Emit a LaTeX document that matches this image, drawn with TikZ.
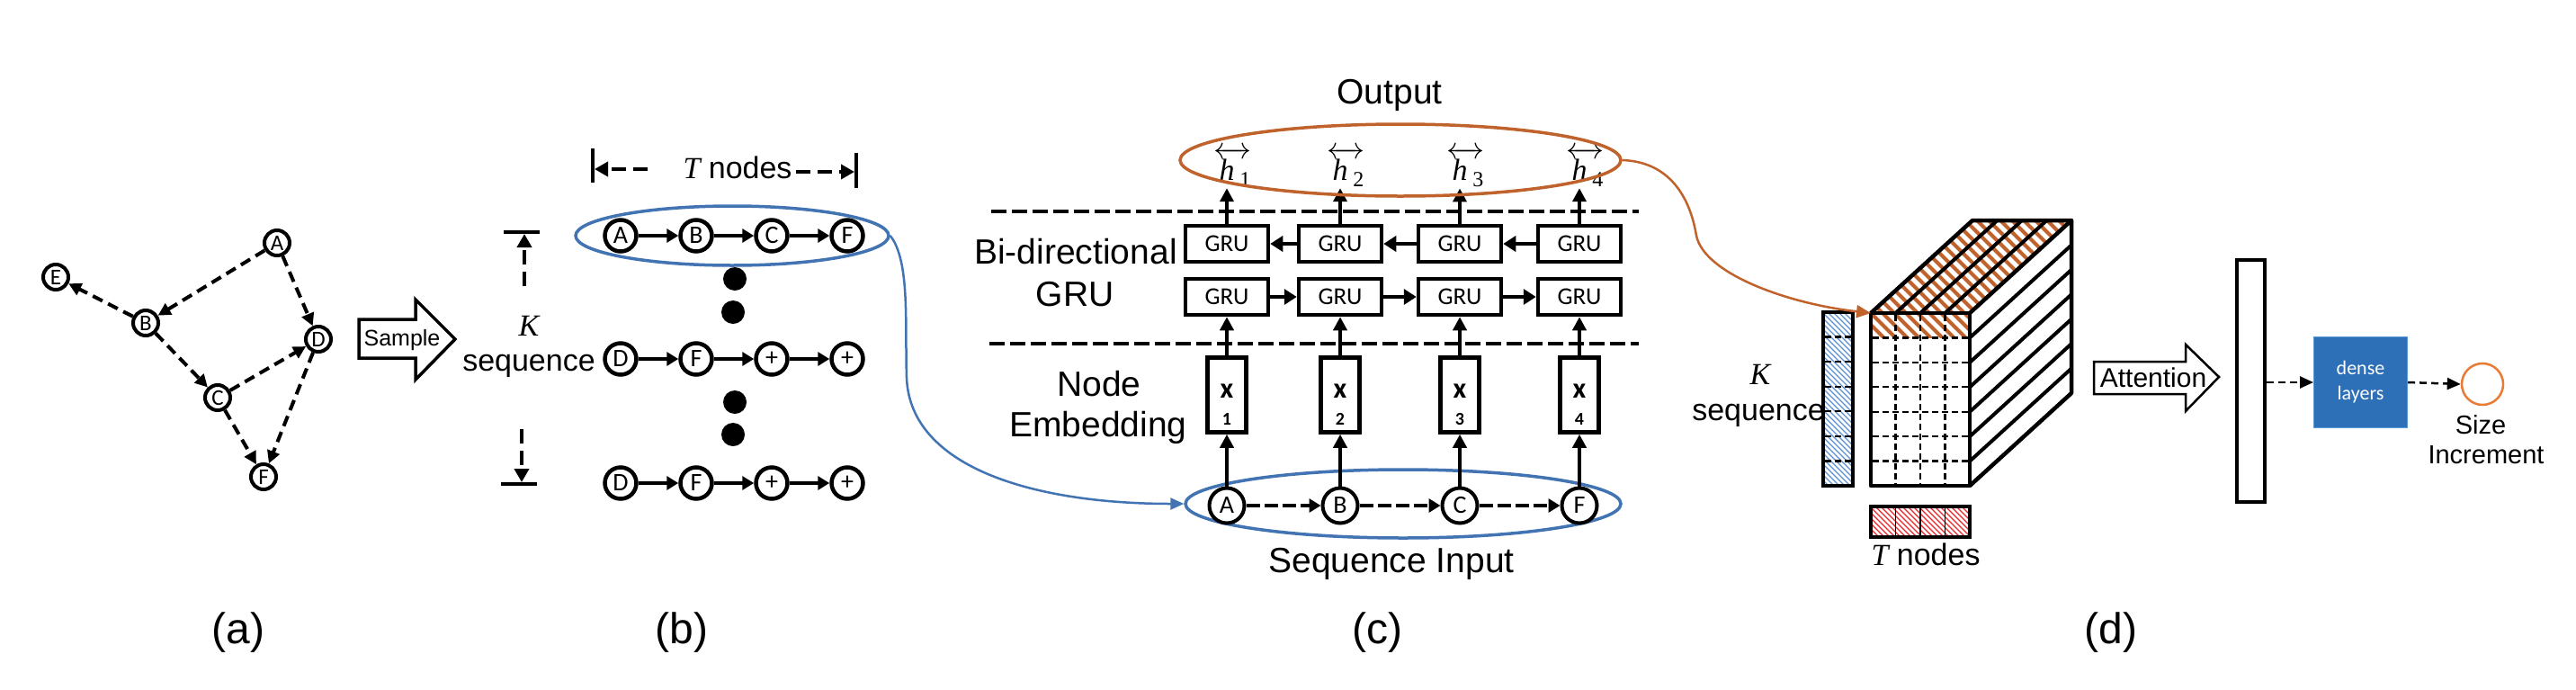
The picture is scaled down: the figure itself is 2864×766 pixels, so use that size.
\RequirePackage{fix-cm}
\documentclass[tikz,border=0pt]{standalone}
\usepackage{amsmath}
\usepackage{fontspec}
\setmainfont{Liberation Sans}
\newfontfamily\calib{Carlito}
\newfontfamily\tnr{Liberation Serif}
\usetikzlibrary{arrows.meta,shapes.geometric}
\definecolor{obrown}{HTML}{C0622C}
\definecolor{oblue}{HTML}{4273B2}
\definecolor{dblue}{HTML}{2E70B8}
\definecolor{lblue}{HTML}{5B9BD5}
\definecolor{oorange}{HTML}{E97B35}
\definecolor{hred}{HTML}{E8262A}
\definecolor{hblue}{HTML}{5B8FD0}
\newcommand{\fsz}[1]{\fontsize{#1}{#1}\selectfont}
\newcommand{\varit}[1]{{\tnr\itshape #1}}
\newcommand{\hlab}[1]{{\tnr\fsz{34}\(\overleftrightarrow{\mbox{\itshape h\kern13pt}}\)\kern-13pt\raisebox{-7pt}{\fsz{24}#1}}}
\begin{document}
\begin{tikzpicture}[x=1pt,y=-1pt,
 ca/.style={circle,draw,fill=white,line width=4pt,minimum size=28pt,inner sep=0pt,font=\calib\fsz{25}},
 cb/.style={circle,draw,fill=white,line width=4.5pt,minimum size=35pt,inner sep=0pt,font=\calib\fsz{28}},
 cc/.style={circle,draw,fill=white,line width=4pt,minimum size=39pt,inner sep=0pt,font=\calib\fsz{28}},
 gru/.style={draw,fill=white,line width=4.5pt,minimum width=92pt,minimum height=40pt,inner sep=0pt,font=\calib\fsz{27}},
 xbox/.style={draw,line width=4.5pt,minimum width=43pt,minimum height=83pt,inner sep=0pt},
 lab/.style={font=\fsz{39},inner sep=0pt},
 labb/.style={font=\fsz{34},inner sep=0pt},
 labd/.style={font=\fsz{29},inner sep=0pt},
 sub/.style={font=\fsz{48}},
 dedge/.style={line width=4pt,dash pattern=on 12pt off 7pt,-{Triangle[length=14pt,width=14pt]}},
 sedge/.style={line width=4.5pt,-{Triangle[length=13pt,width=15pt]}},
 bdash/.style={line width=4.5pt,dash pattern=on 16pt off 8pt,-{Triangle[length=15pt,width=16pt]}},
 cdash/.style={line width=4pt,dash pattern=on 15pt off 5pt,-{Triangle[length=13pt,width=15pt]}},
 varrow/.style={line width=4pt,-{Triangle[length=15pt,width=15pt]}},
 garrow/.style={line width=4.5pt,-{Triangle[length=14pt,width=17pt]}},
 divider/.style={line width=4.5pt,dash pattern=on 17pt off 6pt},
 ddash/.style={line width=2.5pt,dash pattern=on 8pt off 5pt,-{Triangle[length=15pt,width=13pt]}},
 gridd/.style={line width=2.2pt,dash pattern=on 7pt off 4pt},
 bar/.style={line width=4.5pt}
]
\useasboundingbox (0,0) rectangle (2864,766);

% ---------------- (a) ----------------
\node[ca] (aA) at (308,270) {A};
\node[ca] (aE) at (62,308) {E};
\node[ca] (aB) at (162,359) {B};
\node[ca] (aD) at (354,377) {D};
\node[ca] (aC) at (242,442) {C};
\node[ca] (aF) at (293,530) {F};
\draw[dedge] (aA) -- (aB);
\draw[dedge] (aA) -- (aD);
\draw[dedge] (aB) -- (aE);
\draw[dedge] (aB) -- (aC);
\draw[dedge] (aC) -- (aD);
\draw[dedge] (aC) -- (aF);
\draw[dedge] (aD) -- (aF);

% Sample arrow
\draw[line width=3.5pt,line join=miter] (399,355) -- (462,355) -- (462,333) -- (506,377) -- (462,422) -- (462,398) -- (399,398) -- cycle;
\node[font=\fsz{25},inner sep=0pt] (samp) at (447,378) {Sample};

% ---------------- (b) ----------------
\node[ellipse,draw=oblue,line width=3.5pt,minimum width=348pt,minimum height=66pt,inner sep=0pt] (bell) at (814,262) {};
\node[cb] (b11) at (690,262) {A};
\node[cb] (b12) at (774,262) {B};
\node[cb] (b13) at (858,262) {C};
\node[cb] (b14) at (942,262) {F};
\node[cb] (b21) at (690,399) {D};
\node[cb] (b22) at (774,399) {F};
\node[cb] (b23) at (858,399) {+};
\node[cb] (b24) at (942,399) {+};
\node[cb] (b31) at (690,537) {D};
\node[cb] (b32) at (774,537) {F};
\node[cb] (b33) at (858,537) {+};
\node[cb] (b34) at (942,537) {+};
\foreach \r in {1,2,3}{\foreach \a/\b in {1/2,2/3,3/4}{\draw[sedge] (b\r\a) -- (b\r\b);}}
\fill (817,310) circle (13);
\fill (815,347) circle (13);
\fill (817,447) circle (13);
\fill (815,483) circle (13);
% T nodes bracket
\draw[bar] (659,165) -- (659,203);
\draw[bar] (952,170) -- (952,209);
\coordinate (tls) at (720,188);
\coordinate (tle) at (661,188);
\coordinate (trs) at (885,191);
\coordinate (tre) at (950,191);
\draw[bdash] (tls) -- (tle);
\draw[bdash] (trs) -- (tre);
\node[labb,anchor=base] (btn) at (820,198) {\varit{T} nodes};
% K bracket
\draw[bar] (560,258) -- (600,258);
\draw[bar] (557,538) -- (597,538);
\coordinate (kus) at (583,318);
\coordinate (kue) at (583,260);
\coordinate (kds) at (580,477);
\coordinate (kde) at (580,536);
\draw[bdash] (kus) -- (kue);
\draw[bdash] (kds) -- (kde);
\node[labb,anchor=base] (bk) at (588,373) {\varit{K}};
\node[labb,anchor=base] (bseq) at (588,412) {sequence};

% ---------------- (c) ----------------
\node[lab,anchor=base] (outl) at (1545,115) {Output};
\node[lab,anchor=base] (lbi) at (1196,293) {Bi-directional};
\node[lab,anchor=base] (lgru) at (1195,340) {GRU};
\node[lab,anchor=base] (lnode) at (1222,440) {Node};
\node[lab,anchor=base] (lemb) at (1221,485) {Embedding};
\node[lab,anchor=base] (lseq) at (1547,636) {Sequence Input};
\coordinate (d1s) at (1102,235);
\coordinate (d1e) at (1822,235);
\coordinate (d2s) at (1100,382);
\coordinate (d2e) at (1822,382);
\draw[divider] (d1s) -- (d1e);
\draw[divider] (d2s) -- (d2e);
\node[ellipse,draw=oblue,line width=3.5pt,minimum width=484pt,minimum height=76pt,inner sep=0pt] (sell) at (1560,560) {};
\foreach \i/\px/\l in {1/1364/A,2/1490/B,3/1623/C,4/1756/F}{
 \node[cc] (s\i) at (\px,562) {\l};
 \node[xbox] (x\i) at (\px,439) {};
 \node[font=\calib\bfseries\fsz{32},inner sep=0pt] (xt\i) at (\px,435) {x};
 \node[font=\calib\bfseries\fsz{20},inner sep=0pt] (xn\i) at (\px,466) {\i};
 \node[gru] (gf\i) at (\px,330) {GRU};
 \node[gru] (gb\i) at (\px,271) {GRU};
 \node[inner sep=2pt,anchor=base] (h\i) at (\px+6,200) {\hlab{\i}};
}
\foreach \i in {1,2,3,4}{
 \draw[varrow] (s\i) -- (x\i);
 \draw[varrow] (x\i) -- (gf\i);
 \draw[varrow] (gb\i) -- (gb\i.north |- h\i.south);
}
\foreach \a/\b in {1/2,2/3,3/4}{
 \draw[cdash] (s\a) -- (s\b);
 \draw[garrow] (gf\a) -- (gf\b);
 \draw[garrow] (gb\b) -- (gb\a);
}
\node[ellipse,draw=obrown,line width=3.5pt,minimum width=490pt,minimum height=80pt,inner sep=0pt] (oell) at (1557,178) {};
\draw[oblue,line width=2.5pt,-{Triangle[length=15pt,width=13pt]}] (bell.east) .. controls (1012,290) and (1006,360) .. (1008,420) .. controls (1012,520) and (1150,560) .. (sell.west);

% ---------------- (d) ----------------
\coordinate (cubetl) at (2080,348);
% blue bar
\begin{scope}
 \clip (2027,347) rectangle (2060,540);
 \foreach \c in {1487,1493,...,1715}{\draw[hblue,line width=1.2pt] ({\c+340},340) -- ({\c+550},550);}
\end{scope}
\foreach \k in {1,...,6}{\draw[gridd] (2029,{347+27.57*\k}) -- (2058,{347+27.57*\k});}
\draw[bar] (2027,347) rectangle (2060,540);
% front top row hatch
\begin{scope}
 \clip (2080,348) rectangle (2190,375.4);
 \foreach \c in {1693,1706,...,1862}{\draw[obrown,line width=4pt] ({\c+340},340) -- ({\c+385},385);}
\end{scope}
% top face hatch
\begin{scope}
 \clip (2080,348) -- (2193,245) -- (2303,245) -- (2190,348) -- cycle;
 \foreach \c in {1719,1732,...,2070}{\draw[obrown,line width=4pt] ({\c+238},238) -- ({\c+356},356);}
\end{scope}
\foreach \k in {1,...,6}{\draw[gridd] (2082,{348+27.43*\k}) -- (2188,{348+27.43*\k});}
\foreach \j in {1,2,3}{\draw[gridd] ({2080+27.5*\j},350) -- ({2080+27.5*\j},538);}
\foreach \k in {1,...,6}{\draw[line width=4pt] (2190,{348+27.43*\k}) -- ++(113,-103);}
\foreach \j in {1,2,3}{\draw[line width=4pt] ({2080+27.5*\j},348) -- ++(113,-103);}
\draw[bar,line join=round] (2080,348) rectangle (2190,540);
\draw[bar,line join=round] (2080,348) -- (2193,245) -- (2303,245) -- (2303,437) -- (2190,540);
\draw[bar] (2190,348) -- (2303,245);
% red bar
\begin{scope}
 \clip (2080,563) rectangle (2190,597);
 \foreach \c in {1480,1486,...,1630}{\draw[hred,line width=1.2pt] ({\c+555},555) -- ({\c+605},605);}
\end{scope}
\foreach \j in {1,2,3}{\draw[line width=1.5pt] ({2080+27.5*\j},563) -- ({2080+27.5*\j},597);}
\draw[line width=4pt] (2080,563) rectangle (2190,597);
\node[labb,anchor=base] (dk) at (1957,427) {\varit{K}};
\node[labb,anchor=base] (dseq) at (1955,467) {sequence};
\node[labb,anchor=base] (dtn) at (2141,628) {\varit{T} nodes};
\draw[obrown,line width=2.5pt,-{Triangle[length=16pt,width=14pt]}] (oell.east) .. controls (1860,180) and (1880,225) .. (1886,262) .. controls (1895,305) and (1990,338) .. (cubetl);
% attention arrow
\draw[line width=2.5pt,line join=miter] (2328,402) -- (2430,402) -- (2430,383) -- (2467,419) -- (2430,457) -- (2430,438) -- (2328,438) -- cycle;
\node[font=\fsz{30},inner sep=0pt] (att) at (2394,420) {Attention};
\node[draw,line width=4pt,minimum width=31pt,minimum height=269pt,inner sep=0pt] (vec) at (2502.5,423.5) {};
\node[fill=dblue,draw=lblue,line width=1pt,minimum width=104pt,minimum height=101pt,inner sep=0pt,text=white,align=center,font=\calib\fontsize{22}{28}\selectfont] (dl) at (2624.5,425) {dense\\layers};
\node[circle,draw=oorange,line width=2.5pt,minimum size=46pt,inner sep=0pt] (outc) at (2760,427) {};
\draw[ddash] (dl.west -| vec.east) -- (dl.west);
\draw[ddash] (dl.east) -- (outc.west);
\node[labd,anchor=base] (lsize) at (2758,482) {Size};
\node[labd,anchor=base] (linc) at (2764,515) {Increment};

% ---------------- sub labels ----------------
\node[sub] (la) at (265,703) {(a)};
\node[sub] (lb) at (758,703) {(b)};
\node[sub] (lc) at (1531,703) {(c)};
\node[sub] (ld) at (2347,703) {(d)};
\end{tikzpicture}
\end{document}
